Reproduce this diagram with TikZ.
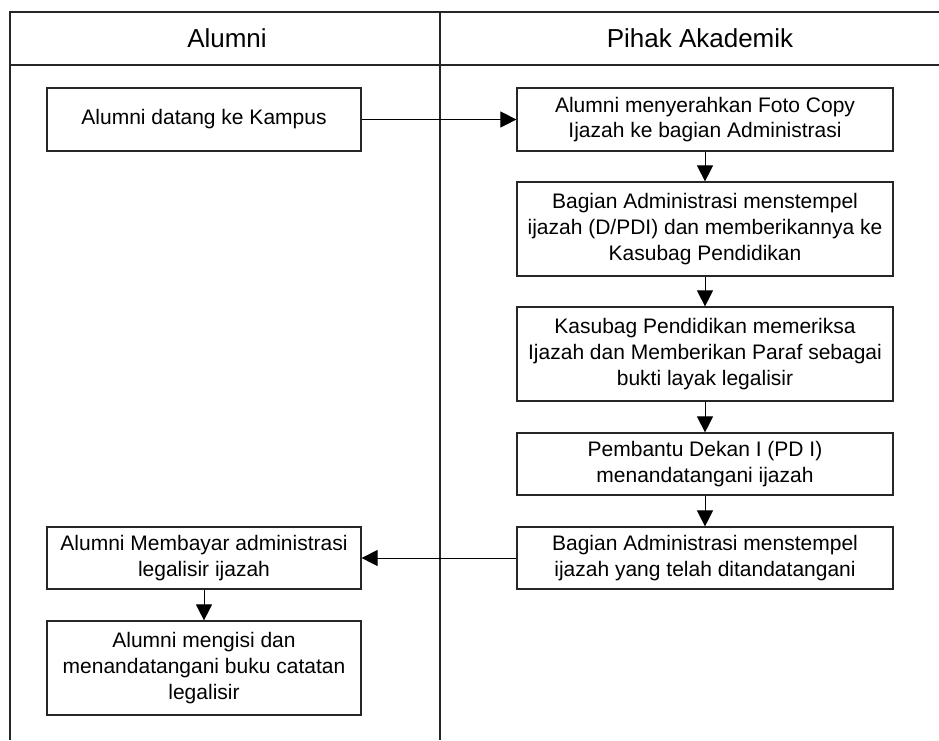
\documentclass[tikz,border=0pt]{standalone}
\usepackage{fontspec}
\setmainfont{Liberation Sans}
\usetikzlibrary{arrows.meta}
\begin{document}
\begin{tikzpicture}[x=1pt,y=-1pt,
  frame/.style={line width=1.1pt,draw=black!85},
  procbox/.style={draw=black!85,line width=1.2pt,rectangle,align=center,inner sep=0pt,
    font=\fontsize{21}{25.7}\selectfont,text=black},
  lanehead/.style={font=\fontsize{26}{30}\selectfont,text=black,inner sep=0pt},
  flow/.style={line width=1pt,draw=black,-{Triangle[length=16pt,width=16pt]}}]
\useasboundingbox (0,0) rectangle (939,740);
% frame
\draw[frame] (939,12) -- (10,12) -- (10,740);
\draw[frame] (10,65) -- (939,65);
\draw[frame] (440,12) -- (440,740);
% headers
\node[lanehead] (h1) at (227,38.5) {Alumni};
\node[lanehead] (h2) at (700,38.5) {Pihak Akademik};
% boxes
\node[procbox,minimum width=314pt,minimum height=63pt] (b1) at (204,119.5) {Alumni datang ke Kampus};
\node[procbox,minimum width=376pt,minimum height=63pt] (b2) at (705,119.5) {Alumni menyerahkan Foto Copy\\Ijazah ke bagian Administrasi};
\node[procbox,minimum width=376pt,minimum height=94pt] (b3) at (705,229) {Bagian Administrasi menstempel\\ijazah (D/PDI) dan memberikannya ke\\Kasubag Pendidikan};
\node[procbox,minimum width=376pt,minimum height=94pt] (b4) at (705,354) {Kasubag Pendidikan memeriksa\\Ijazah dan Memberikan Paraf sebagai\\bukti layak legalisir};
\node[procbox,minimum width=376pt,minimum height=62pt] (b5) at (705,464) {Pembantu Dekan I (PD I)\\menandatangani ijazah};
\node[procbox,minimum width=376pt,minimum height=62pt] (b6) at (705,558) {Bagian Administrasi menstempel\\ijazah yang telah ditandatangani};
\node[procbox,minimum width=314pt,minimum height=62pt] (bA) at (204,558) {Alumni Membayar administrasi\\legalisir ijazah};
\node[procbox,minimum width=314pt,minimum height=94pt] (bB) at (204,668) {Alumni mengisi dan\\menandatangani buku catatan\\legalisir};
% connectors
\draw[flow] (b1.east) -- (b2.west);
\draw[flow] (b2.south) -- (b3.north);
\draw[flow] (b3.south) -- (b4.north);
\draw[flow] (b4.south) -- (b5.north);
\draw[flow] (b5.south) -- (b6.north);
\draw[flow] (b6.west) -- (bA.east);
\draw[flow] (bA.south) -- (bB.north);
\end{tikzpicture}
\end{document}
